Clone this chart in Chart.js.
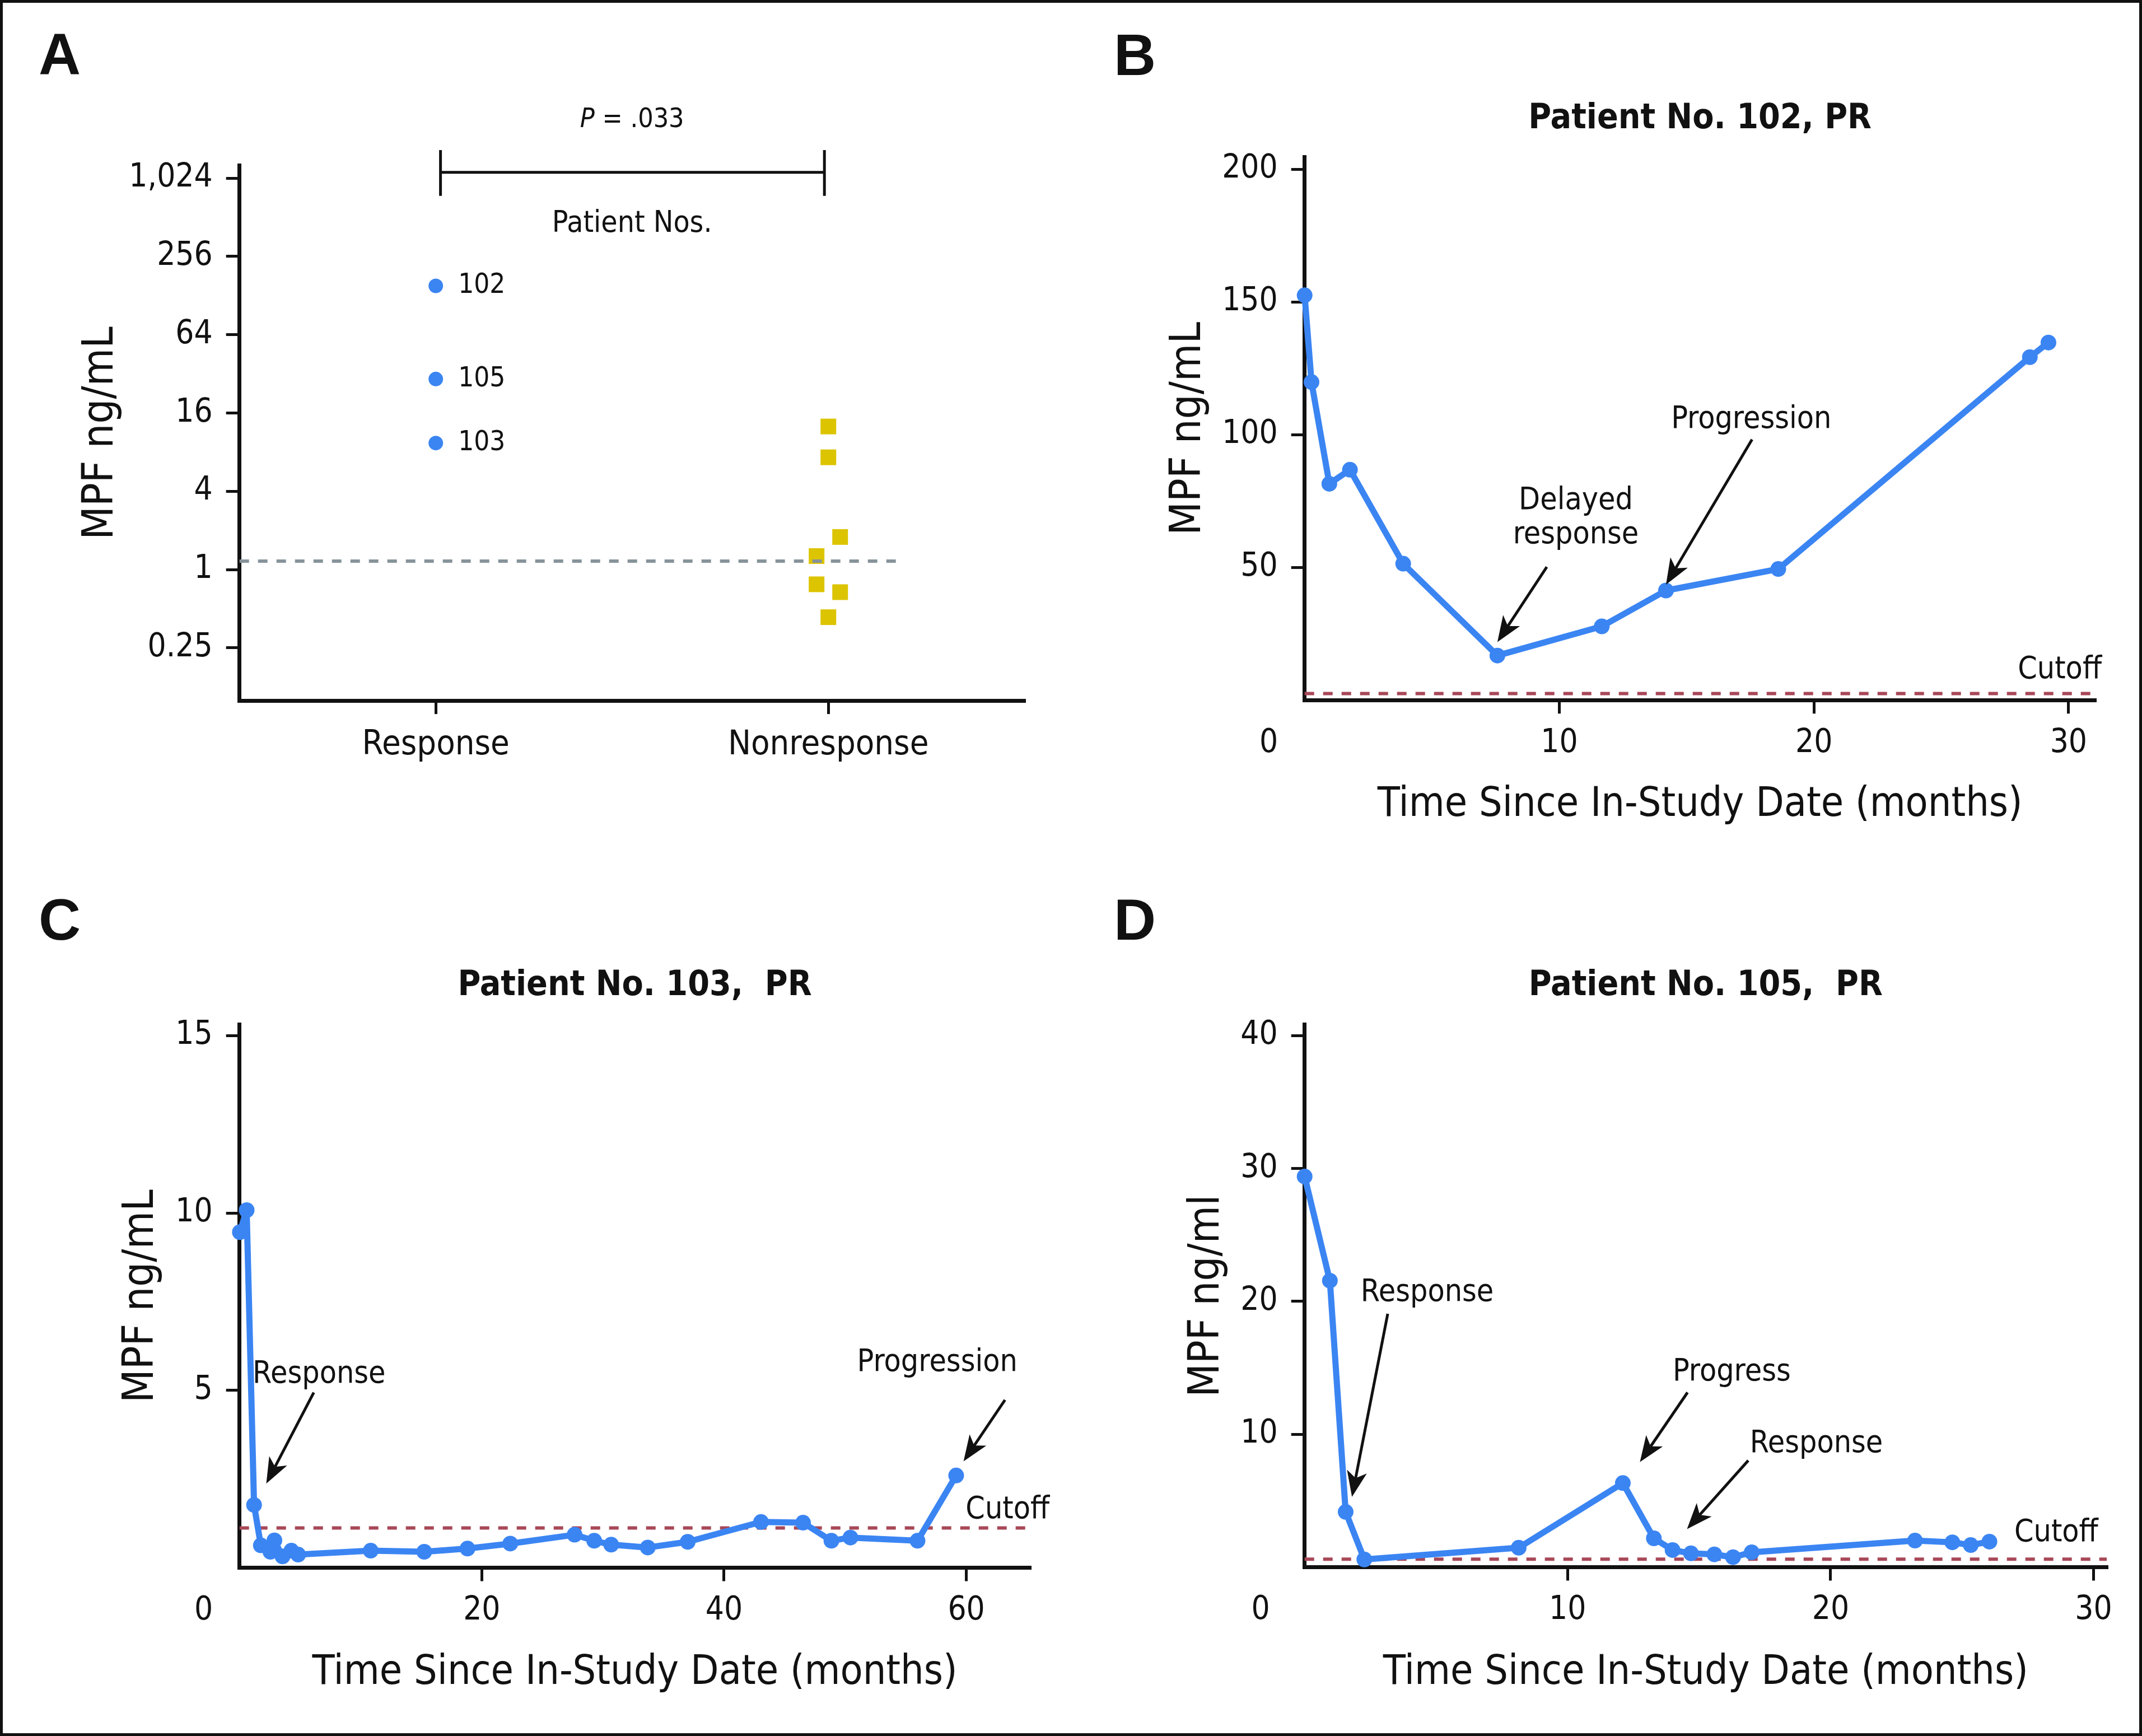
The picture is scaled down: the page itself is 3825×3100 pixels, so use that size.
<!DOCTYPE html>
<html>
<head>
<meta charset="utf-8">
<title>MPF ng/mL</title>
<script src="https://cdn.jsdelivr.net/npm/chart.js@4.4.0/dist/chart.umd.min.js"></script>
<style>
  html, body { margin: 0; padding: 0; background: #fff; }
  #fig { position: relative; width: 3825px; height: 3100px; background: #fff; overflow: hidden; }
  #fig canvas { position: absolute; }
  #frame { position: absolute; left: 0; top: 0; width: 3825px; height: 3100px; box-sizing: border-box; border: 5px solid #111; pointer-events: none; }
</style>
</head>
<body>
<div id="fig">
  <canvas id="chartA" width="1912" height="1550" style="left:0;top:0"></canvas>
  <canvas id="chartB" width="1913" height="1550" style="left:1912px;top:0"></canvas>
  <canvas id="chartC" width="1912" height="1550" style="left:0;top:1550px"></canvas>
  <canvas id="chartD" width="1913" height="1550" style="left:1912px;top:1550px"></canvas>
  <div id="frame"></div>
</div>
<script>
// ---- data ----
// A: MPF at baseline by response group (log2 axis)
const groupsA = ['Response', 'Nonresponse'];
const responderIds = ['102', '105', '103'];
const responderMpf = [152, 29.2, 9.4];
const nonresponderX = [1.0, 1.0, 1.03, 0.97, 0.97, 1.03, 1.0];
const nonresponderMpf = [12.6, 7.3, 1.78, 1.27, 0.77, 0.67, 0.43];
const thresholdA = 1.16;
const yTicksA = [0.25, 1, 4, 16, 64, 256, 1024];
const yTickLabelsA = ['0.25', '1', '4', '16', '64', '256', '1,024'];

// B: patient 102
const monthsB = [0, 0.27, 0.97, 1.78, 3.87, 7.57, 11.67, 14.19, 18.6, 28.48, 29.21];
const mpfB = [152.5, 119.8, 81.5, 86.8, 51.4, 16.8, 27.8, 41.3, 49.4, 129.2, 134.7];
const cutoffB = 2.5;
const xTicksB = [10, 20, 30];
const yTicksB = [50, 100, 150, 200];

// C: patient 103
const monthsC = [0.03, 0.59, 1.2, 1.76, 2.55, 2.88, 3.55, 4.28, 4.84, 10.83, 15.25, 18.82, 22.35, 27.66, 29.28, 30.68, 33.7, 37.0, 43.05, 46.52, 48.86, 50.43, 55.97, 59.16];
const mpfC = [9.46, 10.08, 1.77, 0.63, 0.45, 0.77, 0.32, 0.48, 0.37, 0.48, 0.45, 0.54, 0.68, 0.93, 0.76, 0.65, 0.57, 0.73, 1.29, 1.27, 0.76, 0.85, 0.76, 2.6];
const cutoffC = 1.12;
const xTicksC = [20, 40, 60];
const yTicksC = [5, 10, 15];

// D: patient 105
const monthsD = [0, 0.96, 1.56, 2.27, 8.14, 12.1, 13.28, 13.99, 14.69, 15.58, 16.29, 17.0, 23.21, 24.63, 25.33, 26.04];
const mpfD = [29.4, 21.56, 4.16, 0.58, 1.46, 6.33, 2.17, 1.29, 1.04, 0.96, 0.75, 1.12, 2.0, 1.87, 1.66, 1.92];
const cutoffD = 0.6;
const xTicksD = [10, 20, 30];
const yTicksD = [10, 20, 30, 40];

// ---- styling ----
const FAMILY = '"Liberation Sans Narrow", "Arial Narrow", "DejaVu Sans Condensed", sans-serif';
const INK = '#111';
const BLUE = '#3b85f3';
const YELLOW = '#dcc400';
const GRAY = '#87939a';
const RED = '#a84858';
const H = 1550;
const TICK_SIZE = 58;
const NOTE_SIZE = 55;

Chart.defaults.font.family = FAMILY;
Chart.defaults.color = INK;

function tickList(list) {
  return function (scale) { scale.ticks = list.map(v => ({ value: v })); };
}

function axisBase(tickFont, pad) {
  return {
    border: { display: true, color: INK, width: 7 },
    grid: { display: true, drawOnChartArea: false, drawTicks: true, tickLength: 24, tickWidth: 5, tickColor: INK, lineWidth: 5, color: INK },
    ticks: { color: INK, font: { family: FAMILY, size: tickFont, lineHeight: 1.2 }, padding: pad, autoSkip: false, maxRotation: 0, minRotation: 0 }
  };
}

function drawArrow(ctx, x1, y1, x2, y2) {
  const ang = Math.atan2(y2 - y1, x2 - x1);
  const len = 46, half = 18, notch = 12;
  ctx.save();
  ctx.strokeStyle = INK;
  ctx.fillStyle = INK;
  ctx.lineWidth = 5;
  ctx.beginPath();
  ctx.moveTo(x1, y1);
  ctx.lineTo(x2 - Math.cos(ang) * (len - notch), y2 - Math.sin(ang) * (len - notch));
  ctx.stroke();
  ctx.translate(x2, y2);
  ctx.rotate(ang);
  ctx.beginPath();
  ctx.moveTo(0, 0);
  ctx.lineTo(-len, -half);
  ctx.lineTo(-len + notch, 0);
  ctx.lineTo(-len, half);
  ctx.closePath();
  ctx.fill();
  ctx.restore();
}

// panel letters, notes, arrows, origin "0"
const marks = {
  id: 'marks',
  afterDraw(chart, args, o) {
    const ctx = chart.ctx;
    const xs = chart.scales.x, ys = chart.scales.y;
    ctx.save();
    ctx.fillStyle = INK;
    ctx.textBaseline = 'middle';
    if (o.letter) {
      ctx.font = 'bold 104px "Liberation Sans", Arial, sans-serif';
      ctx.textAlign = 'center';
      ctx.fillText(o.letter, o.letterAt[0], o.letterAt[1]);
    }
    ctx.font = NOTE_SIZE + 'px ' + FAMILY;
    (o.notes || []).forEach(n => {
      ctx.textAlign = n.align || 'center';
      ctx.fillText(n.text, xs.getPixelForValue(n.x), ys.getPixelForValue(n.y));
    });
    (o.arrows || []).forEach(a => {
      drawArrow(ctx, xs.getPixelForValue(a[0]), ys.getPixelForValue(a[1]), xs.getPixelForValue(a[2]), ys.getPixelForValue(a[3]));
    });
    if (o.originShift) {
      ctx.font = TICK_SIZE + 'px ' + FAMILY;
      ctx.textAlign = 'center';
      ctx.fillText('0', xs.left - o.originShift, xs.top + 24 + 19 + TICK_SIZE * 0.6);
    }
    ctx.restore();
  }
};

// ---- A ----
const extraA = {
  id: 'extraA',
  afterDraw(chart) {
    const ctx = chart.ctx;
    const xs = chart.scales.x, ys = chart.scales.y;
    ctx.save();
    ctx.fillStyle = INK;
    ctx.strokeStyle = INK;
    ctx.textBaseline = 'middle';
    // responder ids next to their dots
    ctx.font = '49px ' + FAMILY;
    ctx.textAlign = 'left';
    responderIds.forEach((id, i) => {
      ctx.fillText(id, xs.getPixelForValue(0) + 40, ys.getPixelForValue(responderMpf[i]));
    });
    ctx.font = '53px ' + FAMILY;
    ctx.textAlign = 'center';
    ctx.fillText('Patient Nos.', xs.getPixelForValue(0.5), ys.getPixelForValue(452));
    // significance bracket
    const bx1 = xs.getPixelForValue(0.012), bx2 = xs.getPixelForValue(0.99);
    const by = ys.getPixelForValue(1136), bTop = ys.getPixelForValue(1687), bBot = ys.getPixelForValue(749);
    ctx.lineWidth = 5;
    ctx.beginPath();
    ctx.moveTo(bx1, by); ctx.lineTo(bx2, by);
    ctx.moveTo(bx1, bTop); ctx.lineTo(bx1, bBot);
    ctx.moveTo(bx2, bTop); ctx.lineTo(bx2, bBot);
    ctx.stroke();
    // P = .033 with italic P
    const pY = ys.getPixelForValue(2856);
    const italic = 'italic 48px ' + FAMILY, upright = '48px ' + FAMILY;
    ctx.font = italic;
    const wP = ctx.measureText('P').width;
    ctx.font = upright;
    const wRest = ctx.measureText(' = .033').width;
    const px = xs.getPixelForValue(0.5) - (wP + wRest) / 2;
    ctx.textAlign = 'left';
    ctx.font = italic;
    ctx.fillText('P', px, pY);
    ctx.font = upright;
    ctx.fillText(' = .033', px + wP, pY);
    ctx.restore();
  }
};

const xAxisA = Object.assign(axisBase(61, 19), {
  type: 'linear', min: -0.5, max: 1.5,
  afterBuildTicks: tickList([0, 1]),
  afterFit: s => { s.height = H - 1251.1; }
});
xAxisA.ticks.callback = (v, i) => groupsA[i];

const yAxisA = Object.assign(axisBase(TICK_SIZE, 24), {
  type: 'logarithmic', min: 0.0981, max: 1278,
  afterBuildTicks: tickList(yTicksA),
  afterFit: s => { s.width = 427.7; },
  title: { display: true, text: 'MPF ng/mL', color: INK, font: { family: FAMILY, size: 77, lineHeight: 1 }, padding: { top: 142, bottom: 0 } }
});
yAxisA.ticks.callback = (v, i) => yTickLabelsA[i];

new Chart(document.getElementById('chartA'), {
  type: 'scatter',
  data: {
    datasets: [
      {
        data: responderMpf.map(v => ({ x: 0, y: v })),
        pointStyle: 'circle', pointRadius: 13, backgroundColor: BLUE, borderWidth: 0, clip: false, order: 1
      },
      {
        data: nonresponderMpf.map((v, i) => ({ x: nonresponderX[i], y: v })),
        pointStyle: 'rect', pointRadius: 19.8, backgroundColor: YELLOW, borderWidth: 0, clip: false, order: 1
      },
      {
        type: 'line',
        data: [{ x: -0.5, y: thresholdA }, { x: 1.19, y: thresholdA }],
        borderColor: GRAY, borderWidth: 6, borderDash: [17, 16], pointRadius: 0, clip: false, order: 0
      }
    ]
  },
  options: {
    responsive: false,
    animation: false,
    devicePixelRatio: 1,
    layout: { padding: { left: 0, top: 295.9, right: 1912 - 1829.7, bottom: 0 } },
    plugins: {
      legend: { display: false },
      tooltip: { enabled: false },
      marks: { letter: 'A', letterAt: [106.6, 103.6] }
    },
    scales: { x: xAxisA, y: yAxisA }
  },
  plugins: [marks, extraA]
});

// ---- B, C, D ----
function patientChart(id, p) {
  const pts = p.months.map((m, i) => ({ x: m, y: p.mpf[i] }));
  return new Chart(document.getElementById(id), {
    type: 'line',
    data: {
      datasets: [
        {
          data: pts, borderColor: BLUE, backgroundColor: BLUE, borderWidth: 11,
          pointRadius: 14, pointBorderWidth: 0, pointBackgroundColor: BLUE,
          tension: 0, borderJoinStyle: 'round', clip: false, order: 1
        },
        {
          data: [{ x: p.xMin, y: p.cutoff }, { x: p.xMax, y: p.cutoff }],
          borderColor: RED, borderWidth: 6, borderDash: [17, 16], pointRadius: 0, clip: false, order: 2
        }
      ]
    },
    options: {
      responsive: false,
      animation: false,
      devicePixelRatio: 1,
      layout: { padding: { left: 0, top: 0, right: p.width - p.area[2], bottom: 0 } },
      plugins: {
        legend: { display: false },
        tooltip: { enabled: false },
        title: {
          display: true, text: p.title, color: INK, fullSize: false,
          font: { family: FAMILY, size: 62, weight: 'bold', lineHeight: 1 },
          padding: { top: p.titleMid + 6 - 31, bottom: p.area[1] - p.titleMid - 6 - 31 }
        },
        marks: { letter: p.letter, letterAt: p.letterAt, notes: p.notes, arrows: p.arrows, originShift: p.originShift }
      },
      scales: {
        x: Object.assign(axisBase(TICK_SIZE, 19), {
          type: 'linear', min: p.xMin, max: p.xMax,
          afterBuildTicks: tickList(p.xTicks),
          afterFit: s => { s.height = H - p.area[3]; },
          title: { display: true, text: 'Time Since In-Study Date (months)', color: INK, font: { family: FAMILY, size: 73, lineHeight: 1 }, padding: { top: 0, bottom: 75 } }
        }),
        y: Object.assign(axisBase(TICK_SIZE, 24), {
          type: 'linear', min: p.yMin, max: p.yMax,
          afterBuildTicks: tickList(p.yTicks),
          afterFit: s => { s.width = p.area[0]; },
          title: { display: true, text: p.yTitle, color: INK, font: { family: FAMILY, size: 77, lineHeight: 1 }, padding: { top: p.yTitleMid + 9 - 38.5, bottom: 0 } }
        })
      }
    },
    plugins: [marks]
  });
}

patientChart('chartB', {
  width: 1913, area: [417.7, 280.3, 1829.6, 1250.3],
  months: monthsB, mpf: mpfB, cutoff: cutoffB, xTicks: xTicksB, yTicks: yTicksB,
  xMin: 0, xMax: 31.05, yMin: 0, yMax: 204.6,
  title: 'Patient No. 102, PR', titleMid: 206.6, yTitle: 'MPF ng/mL', yTitleMid: 201.6,
  letter: 'B', letterAt: [114.5, 105], originShift: 64,
  notes: [
    { text: 'Delayed', x: 10.65, y: 75.1 },
    { text: 'response', x: 10.65, y: 62.1 },
    { text: 'Progression', x: 17.54, y: 105.6 },
    { text: 'Cutoff', x: 31.3, y: 11.2, align: 'right' }
  ],
  arrows: [[9.51, 50.2, 7.57, 21.9], [17.57, 98.2, 14.19, 43.5]]
});

patientChart('chartC', {
  width: 1912, area: [427.7, 279.7, 1839.4, 1249.5],
  months: monthsC, mpf: mpfC, cutoff: cutoffC, xTicks: xTicksC, yTicks: yTicksC,
  xMin: 0, xMax: 65.26, yMin: 0, yMax: 15.31,
  title: 'Patient No. 103,  PR', titleMid: 205.1, yTitle: 'MPF ng/mL', yTitleMid: 244,
  letter: 'C', letterAt: [106.6, 98.9], originShift: 64,
  notes: [
    { text: 'Response', x: 6.57, y: 5.44 },
    { text: 'Progression', x: 57.6, y: 5.77 },
    { text: 'Cutoff', x: 63.4, y: 1.63 }
  ],
  arrows: [[6.13, 4.94, 2.21, 2.37], [63.19, 4.73, 59.77, 3.0]]
});

patientChart('chartD', {
  width: 1913, area: [417.7, 279.7, 1850, 1248.5],
  months: monthsD, mpf: mpfD, cutoff: cutoffD, xTicks: xTicksD, yTicks: yTicksD,
  xMin: 0, xMax: 30.5, yMin: 0, yMax: 40.83,
  title: 'Patient No. 105,  PR', titleMid: 205.1, yTitle: 'MPF ng/ml', yTitleMid: 235.4,
  letter: 'D', letterAt: [114.5, 98.9], originShift: 78.6,
  notes: [
    { text: 'Response', x: 4.66, y: 20.64 },
    { text: 'Progress', x: 16.24, y: 14.65 },
    { text: 'Response', x: 19.46, y: 9.28 },
    { text: 'Cutoff', x: 28.58, y: 2.58 }
  ],
  arrows: [[3.16, 19.07, 1.8, 5.29], [14.56, 13.15, 12.75, 7.91], [16.87, 8.03, 14.54, 2.87]]
});
</script>
</body>
</html>
